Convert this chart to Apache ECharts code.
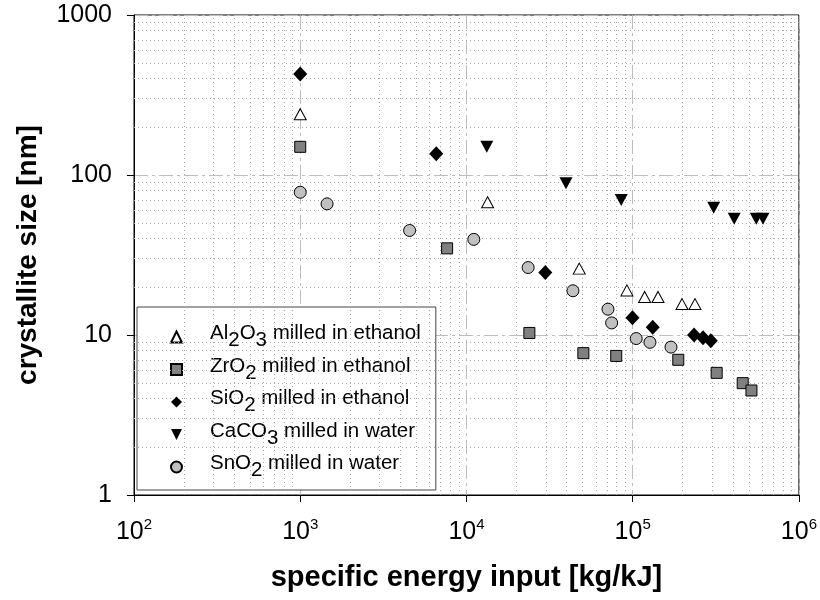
<!DOCTYPE html>
<html lang="en">
  <head>
    <meta charset="UTF-8" />
    <title>crystallite size vs specific energy input</title>
    <script src="https://cdn.jsdelivr.net/npm/echarts@6/dist/echarts.min.js"></script>
    <style>
      body { margin: 0; background: #fff; }
    </style>
  </head>
  <body>
    <div id="main" style="width: 820px; height: 600px"></div>
  </body>
  <script>
    // values: [energy kg/kJ, crystallite size nm]
    const al2o3 = [
      [1000, 240], [13400, 67.5], [47700, 26], [92300, 19],
      [118000, 17.3], [142000, 17.3], [198000, 15.6], [237000, 15.6],
    ];
    const zro2 = [
      [1000, 150], [7650, 34.8], [23900, 10.3], [50500, 7.7], [79600, 7.4],
      [188000, 7.0], [320000, 5.8], [459000, 5.0], [518000, 4.5],
    ];
    const sio2 = [
      [1000, 428], [6580, 136], [29800, 24.6], [99700, 12.8],
      [132000, 11.2], [234000, 10], [265000, 9.6], [295000, 9.2],
    ];
    const caco3 = [
      [13250, 150], [39700, 88.7], [85300, 69.8], [307000, 62.5],
      [408000, 53.3], [554000, 53.3], [608000, 53.3],
    ];
    const sno2 = [
      [1000, 78], [1450, 66], [4550, 45], [11070, 39.6], [23500, 26.4],
      [43700, 18.9], [71000, 14.5], [74700, 11.9], [105000, 9.5],
      [127000, 9.0], [170000, 8.4],
    ];

    const names = [
      "Al2O3 milled in ethanol",
      "ZrO2 milled in ethanol",
      "SiO2 milled in ethanol",
      "CaCO3 milled in water",
      "SnO2 milled in water",
    ];

    // minor grid lines (2..9 in every decade)
    const minorSteps = [2, 3, 4, 5, 6, 7, 8, 9];
    const xDecades = [100, 1000, 10000, 100000];
    const yDecades = [1, 10, 100];

    const downTriangle = "path://M0,0L10,0L5,10Z";
    const font = "Liberation Sans, Arial, sans-serif";

    var minorLines = [];
    xDecades.forEach((d) => minorSteps.forEach((m) => minorLines.push({ xAxis: d * m })));
    yDecades.forEach((d) => minorSteps.forEach((m) => minorLines.push({ yAxis: d * m })));

    var myChart = echarts.init(document.getElementById("main"));

    function legendText(name) {
      return "{g| }{n|" + name.replace(/(\d)/g, "}{s|$1}{n|") + "}";
    }

    var option = {
      animation: false,
      textStyle: { fontFamily: font },
      grid: {
        left: 134,
        right: 20,
        top: 15,
        bottom: 105,
        show: true,
        borderColor: "#000",
        borderWidth: 1,
      },
      legend: {
        orient: "vertical",
        left: 137,
        top: 307,
        padding: [16, 15, 9, 33],
        itemWidth: 11,
        itemHeight: 11,
        itemGap: 4.5,
        backgroundColor: "#fff",
        borderColor: "#444",
        borderWidth: 1,
        data: [
          { name: names[0], icon: "triangle" },
          { name: names[1], icon: "rect" },
          { name: names[2], icon: "diamond" },
          { name: names[3], icon: downTriangle },
          { name: names[4], icon: "circle" },
        ],
        formatter: legendText,
        textStyle: {
          rich: {
            g: { width: 23 },
            n: { fontSize: 20.5, lineHeight: 20, color: "#000", padding: [0, 0, 7, 0], fontFamily: font },
            s: { fontSize: 20.5, lineHeight: 20, color: "#000", padding: [7, 0, 0, 0], fontFamily: font },
          },
        },
      },
      xAxis: {
        type: "log",
        logBase: 10,
        min: 100,
        max: 1000000,
        splitNumber: 4,
        name: "specific energy input [kg/kJ]",
        nameLocation: "middle",
        nameGap: 68,
        nameTextStyle: { fontSize: 29, fontWeight: "bold", color: "#000", fontFamily: font },
        axisLine: { lineStyle: { color: "#000", width: 1 } },
        axisTick: { length: 7, lineStyle: { color: "#000" } },
        axisLabel: {
          margin: 22,
          formatter: (v) => "{b|10}{s|" + Math.round(Math.log10(v)) + "}",
          rich: {
            b: { fontSize: 25, lineHeight: 28, color: "#000", fontFamily: font, verticalAlign: "bottom" },
            s: { fontSize: 15, lineHeight: 15, color: "#000", fontFamily: font, verticalAlign: "top" },
          },
        },
        splitLine: {
          show: true,
          lineStyle: { color: "#bdbdbd", width: 1, type: [14, 4, 3, 4] },
        },
      },
      yAxis: {
        type: "log",
        logBase: 10,
        min: 1,
        max: 1000,
        splitNumber: 3,
        name: "crystallite size [nm]",
        nameLocation: "middle",
        nameGap: 92,
        nameTextStyle: { fontSize: 28, fontWeight: "bold", color: "#000", fontFamily: font },
        axisLine: { lineStyle: { color: "#000", width: 1 } },
        axisTick: { length: 7, lineStyle: { color: "#000" } },
        axisLabel: {
          margin: 22,
          fontSize: 25,
          color: "#000",
          formatter: (v) => String(Math.round(v)),
        },
        splitLine: {
          show: true,
          lineStyle: { color: "#bdbdbd", width: 1, type: [14, 4, 3, 4] },
        },
      },
      series: [
        {
          name: "minor grid",
          type: "line",
          data: [],
          z: 1,
          silent: true,
          markLine: {
            silent: true,
            symbol: ["none", "none"],
            label: { show: false },
            lineStyle: { color: "#a8a8a8", width: 1, type: [1, 3] },
            data: minorLines,
          },
        },
        {
          name: names[0],
          type: "scatter",
          data: al2o3,
          symbol: "triangle",
          symbolSize: [12, 11],
          z: 5,
          itemStyle: { color: "#fff", borderColor: "#000", borderWidth: 1, opacity: 1 },
        },
        {
          name: names[1],
          type: "scatter",
          data: zro2,
          symbol: "rect",
          symbolSize: 11,
          z: 5,
          itemStyle: { color: "#808080", borderColor: "#000", borderWidth: 1, opacity: 1 },
        },
        {
          name: names[2],
          type: "scatter",
          data: sio2,
          symbol: "diamond",
          symbolSize: [14, 15],
          z: 5,
          itemStyle: { color: "#000", opacity: 1 },
        },
        {
          name: names[3],
          type: "scatter",
          data: caco3,
          symbol: downTriangle,
          symbolSize: [13, 12],
          z: 5,
          itemStyle: { color: "#000", opacity: 1 },
        },
        {
          name: names[4],
          type: "scatter",
          data: sno2,
          symbol: "circle",
          symbolSize: 12,
          z: 5,
          itemStyle: { color: "#c0c0c0", borderColor: "#000", borderWidth: 1, opacity: 1 },
        },
      ],
    };

    myChart.setOption(option);
  </script>
</html>
